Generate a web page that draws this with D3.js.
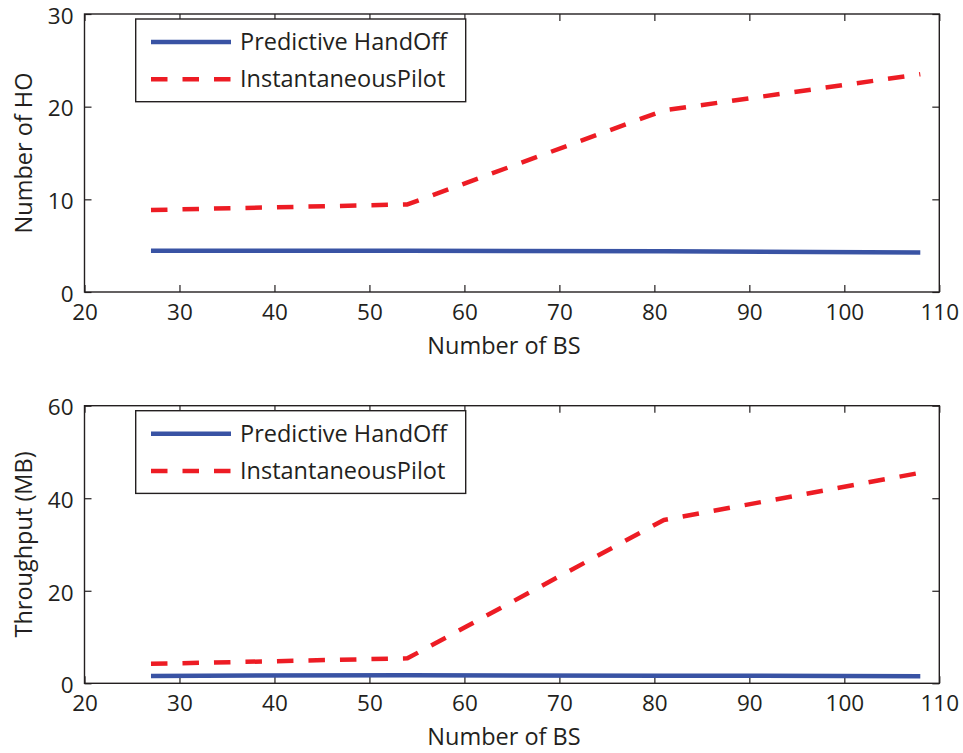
<!DOCTYPE html>
<html>
<head>
<meta charset="utf-8">
<script src="https://cdn.jsdelivr.net/npm/d3@7"></script>
<style>
  html, body { margin: 0; padding: 0; background: #fff; }
  svg text { font-family: "Open Sans", "DejaVu Sans", sans-serif; fill: #231f20; }
</style>
</head>
<body>
<svg id="chart" width="963" height="753"></svg>
<script>
// Number of base stations on the x axis
const bsCounts = [27, 54, 81, 108];

// Handoff counts
const hoPredictive = [4.45, 4.45, 4.4, 4.25];
const hoInstantaneous = [8.85, 9.45, 19.6, 23.5];

// Throughput (MB)
const tpPredictive = [1.6, 1.75, 1.65, 1.55];
const tpInstantaneous = [4.2, 5.4, 35.3, 45.5];

const xTicks = [20, 30, 40, 50, 60, 70, 80, 90, 100, 110];
const hoTicks = [0, 10, 20, 30];
const tpTicks = [0, 20, 40, 60];

const seriesNames = ["Predictive HandOff", "InstantaneousPilot"];
const seriesColors = ["#3953a4", "#ed1c24"];

const svg = d3.select("#chart");
const ink = "#231f20";

function panel(cfg) {
  const { top, bottom, yDomain, yTicks, yLabel, lines } = cfg;
  const left = 84.5, right = 939.3;
  const x = d3.scaleLinear().domain([20, 110]).range([left, right]);
  const y = d3.scaleLinear().domain(yDomain).range([bottom, top]);
  const g = svg.append("g");

  // inward ticks on all four sides
  const tickLen = 7;
  const axB = d3.axisBottom(x).tickValues(xTicks).tickSizeInner(-tickLen).tickSizeOuter(0).tickPadding(12);
  const axT = d3.axisTop(x).tickValues(xTicks).tickSizeInner(-tickLen).tickSizeOuter(0).tickFormat("");
  const axL = d3.axisLeft(y).tickValues(yTicks).tickSizeInner(-tickLen).tickSizeOuter(0).tickPadding(11);
  const axR = d3.axisRight(y).tickValues(yTicks).tickSizeInner(-tickLen).tickSizeOuter(0).tickFormat("");

  const styleAxis = sel => {
    sel.select(".domain").remove();
    sel.selectAll("line").attr("stroke", ink).attr("stroke-width", 1.2);
    sel.selectAll("text").attr("font-size", 22.5).attr("fill", ink)
      .style("font-family", '"Open Sans", "DejaVu Sans", sans-serif');
  };

  g.append("g").attr("transform", `translate(0,${bottom})`).call(axB).call(styleAxis);
  g.append("g").attr("transform", `translate(0,${top})`).call(axT).call(styleAxis);
  g.append("g").attr("transform", `translate(${left},0)`).call(axL).call(styleAxis)
    .selectAll("text").attr("dy", "0.41em");
  g.append("g").attr("transform", `translate(${right},0)`).call(axR).call(styleAxis);

  // series lines
  const line = d3.line().x((d, i) => x(bsCounts[i])).y(d => y(d));
  lines.forEach((vals, k) => {
    g.append("path")
      .datum(vals)
      .attr("d", line)
      .attr("fill", "none")
      .attr("stroke", seriesColors[k])
      .attr("stroke-width", 4.5)
      .attr("stroke-dasharray", k === 1 ? "16.5,15" : null)
      .attr("stroke-linejoin", "round");
  });

  // axes box
  g.append("rect")
    .attr("x", left).attr("y", top)
    .attr("width", right - left).attr("height", bottom - top)
    .attr("fill", "none").attr("stroke", ink).attr("stroke-width", 1.4);

  // axis titles
  g.append("text")
    .attr("x", 504)
    .attr("y", bottom + 62)
    .attr("text-anchor", "middle")
    .attr("font-size", 23.5)
    .text("Number of BS");

  g.append("text")
    .attr("transform", `translate(31.5,${(top + bottom) / 2}) rotate(-90)`)
    .attr("text-anchor", "middle")
    .attr("font-size", 23.5)
    .text(yLabel);

  // legend
  const lgX = 135.7, lgY = top + 5, lgW = 330, lgH = 82.7;
  const lg = g.append("g");
  lg.append("rect")
    .attr("x", lgX).attr("y", lgY).attr("width", lgW).attr("height", lgH)
    .attr("fill", "#fff").attr("stroke", ink).attr("stroke-width", 1.4);
  seriesNames.forEach((name, k) => {
    const ly = lgY + 23 + k * 37.3;
    lg.append("line")
      .attr("x1", lgX + 15.3).attr("x2", lgX + 95.3)
      .attr("y1", ly).attr("y2", ly)
      .attr("stroke", seriesColors[k]).attr("stroke-width", 4.5)
      .attr("stroke-dasharray", k === 1 ? "16.5,15" : null);
    lg.append("text")
      .attr("x", lgX + 104.3).attr("y", ly + 8)
      .attr("font-size", 23.5)
      .text(name);
  });
}

panel({
  top: 14, bottom: 292,
  yDomain: [0, 30], yTicks: hoTicks,
  yLabel: "Number of HO",
  lines: [hoPredictive, hoInstantaneous]
});

panel({
  top: 405.7, bottom: 683.3,
  yDomain: [0, 60], yTicks: tpTicks,
  yLabel: "Throughput (MB)",
  lines: [tpPredictive, tpInstantaneous]
});
</script>
</body>
</html>
